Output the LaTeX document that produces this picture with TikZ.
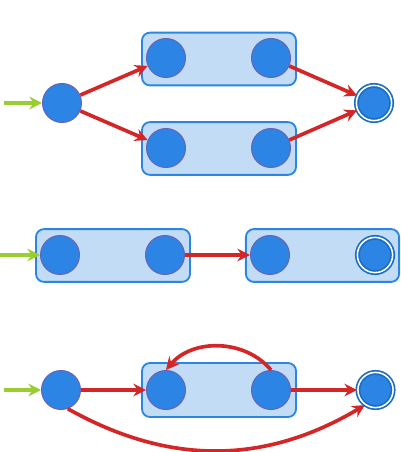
\documentclass[tikz,border=0pt]{standalone}
\usepackage{tikz}
\usetikzlibrary{arrows.meta, positioning}

\definecolor{stateblue}{HTML}{2C84E4}
\definecolor{staterim}{HTML}{6A62B4}
\definecolor{groupfill}{HTML}{C2DCF5}
\definecolor{groupline}{HTML}{2A86E0}
\definecolor{acceptrim}{HTML}{1A6DC0}
\definecolor{edgered}{HTML}{D42626}
\definecolor{entrygreen}{HTML}{9ACD32}

\begin{document}
\begin{tikzpicture}[
    x=0.025cm, y=-0.025cm,
    state/.style={circle, draw=staterim, fill=stateblue, line width=0.7pt, minimum size=0.975cm, inner sep=0pt},
    accept/.style={circle, draw=acceptrim, fill=stateblue, line width=1.2pt, double=white, double distance=1.1pt, minimum size=0.88cm, inner sep=0pt},
    group/.style={draw=groupline, fill=groupfill, line width=1.3pt, rounded corners=0.2cm, minimum width=3.85cm, minimum height=1.32cm},
    edge/.style={draw=edgered, line width=2.6pt, -{Stealth[length=9pt, width=9pt, inset=3pt]}},
    entry/.style={draw=entrygreen, line width=2.4pt, -{Stealth[length=9pt, width=9pt, inset=3pt]}}
]
\useasboundingbox (0,0) rectangle (400,452);

% top: branching into two groups
\node[group] (g1) at (219,59) {};
\node[group] (g2) at (219,148.5) {};
\node[state] (a0) at (62,103) {};
\node[state] (a1) at (166,58) {};
\node[state] (a2) at (271,58) {};
\node[state] (a3) at (166,148) {};
\node[state] (a4) at (271,148) {};
\node[accept] (a5) at (374,103) {};
\coordinate (ain) at (4,103);

\draw[entry] (ain) -- (a0);
\draw[edge] (a0) -- (a1);
\draw[edge] (a0) -- (a3);
\draw[edge] (a2) -- (a5);
\draw[edge] (a4) -- (a5);

% middle: two groups in a row
\node[group] (g3) at (113,255.5) {};
\node[group, minimum width=3.83cm] (g4) at (322.5,255.5) {};
\node[state] (b0) at (60,255) {};
\node[state] (b1) at (165,255) {};
\node[state] (b2) at (270,255) {};
\node[accept] (b3) at (375,255) {};
\coordinate (bin) at (0,255);

\draw[entry] (bin) -- (b0);
\draw[edge] (b1) -- (b2);

% bottom: loop inside a group plus a skip
\node[group, minimum height=1.35cm] (g5) at (219,390) {};
\node[state] (c0) at (61,390) {};
\node[state] (c1) at (166,390) {};
\node[state] (c2) at (271,390) {};
\node[accept] (c3) at (375.5,390) {};
\coordinate (cin) at (4,390);

\draw[entry] (cin) -- (c0);
\draw[edge] (c0) -- (c1);
\draw[edge] (c2) -- (c3);
\draw[edge] (c2.north) to[bend right=50] (c1.north);
\draw[edge] (c0.290) to[bend right=30] (c3.235);

\end{tikzpicture}
\end{document}
